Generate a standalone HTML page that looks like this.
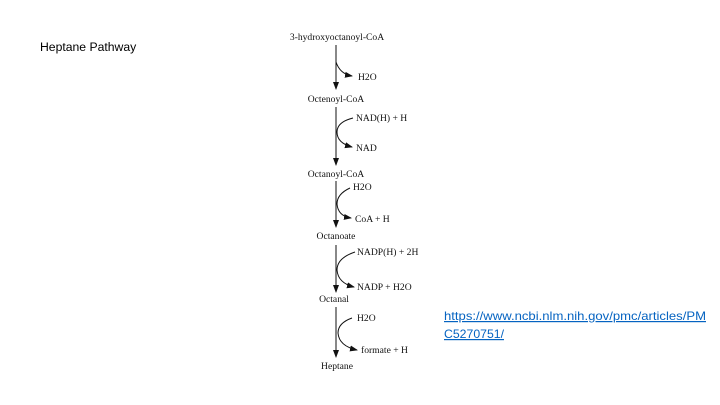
<!DOCTYPE html>
<html><head><meta charset="utf-8"><style>
html,body{margin:0;padding:0;background:#fff;}
svg{display:block;}
.c{font-family:"Liberation Serif",serif;font-size:9.6px;fill:#111;}
</style></head><body>
<svg width="720" height="405" viewBox="0 0 720 405">
<defs><marker id="ah" markerWidth="8" markerHeight="8" refX="7" refY="4" orient="auto" markerUnits="userSpaceOnUse"><path d="M0,1 L8,4 L0,7 Z" fill="#111"/></marker></defs>
<text x="40" y="51" font-family="Liberation Sans, sans-serif" font-size="12.2" fill="#000">Heptane Pathway</text>

<g stroke="#111" stroke-width="1" fill="none">
<line x1="336" y1="45" x2="336" y2="89" marker-end="url(#ah)"/>
<path d="M336,62 Q340,74 352,76" marker-end="url(#ah)"/>
<line x1="336" y1="107" x2="336" y2="165" marker-end="url(#ah)"/>
<path d="M353,118 Q337,122 337,132 Q337,143 352,147" marker-end="url(#ah)"/>
<line x1="336" y1="181" x2="336" y2="227" marker-end="url(#ah)"/>
<path d="M350,188 Q337,194 337,204 Q338,216 351,218" marker-end="url(#ah)"/>
<line x1="336" y1="245" x2="336" y2="292" marker-end="url(#ah)"/>
<path d="M355,252 Q337,258 337,270 Q338,283 354,287" marker-end="url(#ah)"/>
<line x1="336" y1="307" x2="336" y2="357" marker-end="url(#ah)"/>
<path d="M352,318 Q338,323 338,333 Q339,346 357,350" marker-end="url(#ah)"/>
</g>

<g>
<text class="c" x="337" y="40" text-anchor="middle">3-hydroxyoctanoyl-CoA</text>
<text class="c" x="358" y="80">H2O</text>
<text class="c" x="336" y="102" text-anchor="middle">Octenoyl-CoA</text>
<text class="c" x="356" y="121">NAD(H) + H</text>
<text class="c" x="356" y="151">NAD</text>
<text class="c" x="336" y="177" text-anchor="middle">Octanoyl-CoA</text>
<text class="c" x="353" y="190">H2O</text>
<text class="c" x="355" y="222">CoA + H</text>
<text class="c" x="336" y="239" text-anchor="middle">Octanoate</text>
<text class="c" x="357" y="255">NADP(H) + 2H</text>
<text class="c" x="357" y="290">NADP + H2O</text>
<text class="c" x="334" y="302" text-anchor="middle">Octanal</text>
<text class="c" x="357" y="321">H2O</text>
<text class="c" x="361" y="353">formate + H</text>
<text class="c" x="337" y="369" text-anchor="middle">Heptane</text>
</g>

<g font-family="Liberation Sans, sans-serif" font-size="12" fill="#0563c1">
<text x="444" y="320" text-decoration="underline" textLength="262" lengthAdjust="spacingAndGlyphs">https://www.ncbi.nlm.nih.gov/pmc/articles/PM</text>
<text x="444" y="338" text-decoration="underline" textLength="60" lengthAdjust="spacingAndGlyphs">C5270751/</text>
</g>
</svg>
</body></html>
